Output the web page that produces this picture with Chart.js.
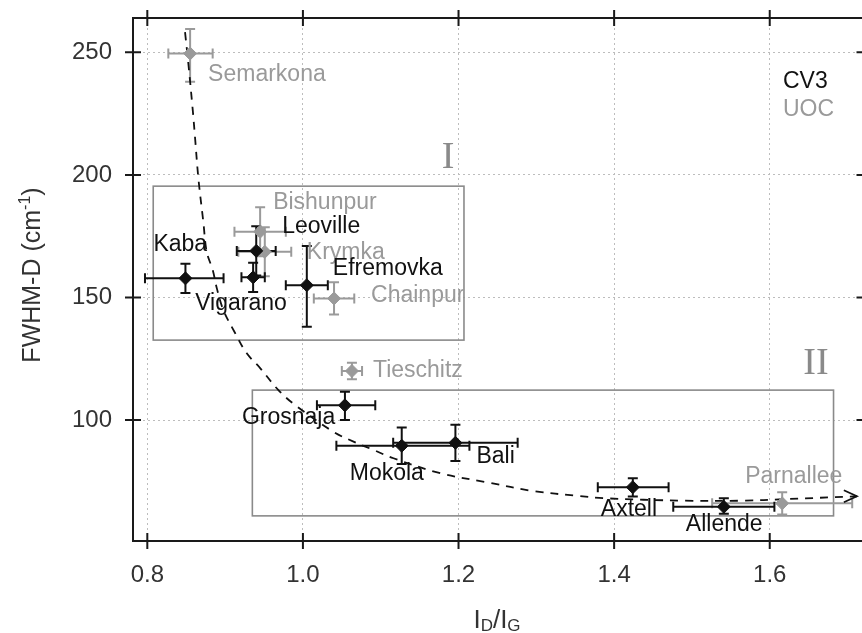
<!DOCTYPE html>
<html>
<head>
<meta charset="utf-8">
<script src="https://cdn.jsdelivr.net/npm/chart.js@4.4.0/dist/chart.umd.min.js"></script>
<style>
    html, body { margin: 0; padding: 0; background: #fff; overflow: hidden; }
    #wrap { width: 862px; height: 633px; overflow: hidden; }
    canvas { display: block; }
</style>
</head>
<body>
<div id="wrap"><canvas id="grafico" width="872" height="633"></canvas></div>
<script>
// ===================== DADOS =====================
// CV3 (pretos)
const cv3Nomes = ['Kaba', 'Leoville', 'Vigarano', 'Efremovka', 'Grosnaja', 'Mokola', 'Bali', 'Axtell', 'Allende'];
const cv3X = [0.849, 0.940, 0.936, 1.005, 1.054, 1.127, 1.196, 1.424, 1.541];
const cv3Y = [157.8, 169.0, 158.2, 155.0, 106.0, 89.5, 90.7, 72.6, 64.6];
const cv3ErrX = [[0.052, 0.049], [0.025, 0.025], [0.015, 0.015], [0.027, 0.027], [0.036, 0.039], [0.084, 0.087], [0.080, 0.080], [0.045, 0.046], [0.065, 0.065]];
const cv3ErrY = [[6, 6], [10, 10], [6, 6], [17, 16], [6, 5.5], [7.4, 7.4], [7.4, 7.4], [3.8, 3.6], [2.8, 3.5]];

// UOC (cinzas)
const uocNomes = ['Semarkona', 'Bishunpur', 'Krymka', 'Chainpur', 'Tieschitz', 'Parnallee'];
const uocX = [0.855, 0.945, 0.951, 1.040, 1.063, 1.616];
const uocY = [249.5, 176.8, 168.6, 149.6, 120.0, 66.0];
const uocErrX = [[0.028, 0.029], [0.033, 0.033], [0.034, 0.034], [0.026, 0.026], [0.013, 0.013], [0.090, 0.090]];
const uocErrY = [[11.5, 10], [10, 10], [10, 10], [6.6, 6.6], [3.4, 3.4], [4.5, 4.5]];

// curva tracejada
const curvaX = [0.8485, 0.8527, 0.8584, 0.8613, 0.8656, 0.8720, 0.8764, 0.8841, 0.8893, 0.8977, 0.9128, 0.9278, 0.9450, 0.9685, 0.9900, 1.0392, 1.0650, 1.0907, 1.1164, 1.1765, 1.2365, 1.2965, 1.3523, 1.3865, 1.4894, 1.5666, 1.6180, 1.7120];
const curvaY = [258.2, 245.6, 226.4, 215.4, 198.7, 180.8, 168.5, 161.2, 153.8, 144.9, 135.5, 127.2, 121.2, 112.2, 106.1, 95.2, 91.2, 87.8, 84.4, 78.3, 74.6, 71.0, 69.1, 68.1, 67.1, 67.1, 67.7, 68.9];

// regiões I e II: [xMin, xMax, yMin, yMax]
const regioes = [
    { nome: 'I', caixa: [0.8076, 1.207, 132.6, 195.4] },
    { nome: 'II', caixa: [0.935, 1.682, 60.9, 112.2] }
];

// ticks
const ticksX = [0.8, 1.0, 1.2, 1.4, 1.6];
const ticksY = [100, 150, 200, 250];

// ===================== ESTILO =====================
const corPreto = '#111';
const corCinza = '#9a9a9a';
const fonteRotulo = '23px "Liberation Sans", Arial, sans-serif';

// deslocamento dos rótulos em px (relativo ao ponto)
const rotuloOffset = {
    Kaba: [-32, -34], Leoville: [26, -24], Vigarano: [-58, 26], Efremovka: [26, -17],
    Grosnaja: [-103, 12], Mokola: [-52, 28], Bali: [21, 14], Axtell: [-32, 22], Allende: [-38, 18],
    Semarkona: [18, 21], Bishunpur: [13, -29], Krymka: [42, 1], Chainpur: [37, -3],
    Tieschitz: [21, 0], Parnallee: [-37, -27]
};
// posição dos numerais romanos (centro, em px)
const numeralPos = { I: [448, 158], II: [816, 364] };

function montarPontos(xs, ys) {
    return xs.map((x, i) => ({ x, y: ys[i] }));
}

// ===================== PLUGIN =====================
const pluginFigura = {
    id: 'figura',
    beforeDatasetsDraw(chart) {
        const { ctx, scales: { x, y } } = chart;
        ctx.save();
        // caixas
        ctx.strokeStyle = '#8a8a8a';
        ctx.lineWidth = 1.6;
        regioes.forEach(r => {
            const [x0, x1, y0, y1] = r.caixa;
            const px0 = x.getPixelForValue(x0), px1 = x.getPixelForValue(x1);
            const py0 = y.getPixelForValue(y1), py1 = y.getPixelForValue(y0);
            ctx.strokeRect(px0, py0, px1 - px0, py1 - py0);
            const [nx, ny] = numeralPos[r.nome];
            ctx.fillStyle = '#8a8a8a';
            ctx.font = '38px "Liberation Serif", "Times New Roman", serif';
            ctx.textAlign = 'center';
            ctx.textBaseline = 'middle';
            ctx.fillText(r.nome, nx, ny);
        });
        // barras de erro
        const desenharErros = (xs, ys, ex, ey, cor) => {
            ctx.strokeStyle = cor;
            ctx.lineWidth = 2;
            const cap = 5;
            xs.forEach((xv, i) => {
                const px = x.getPixelForValue(xv), py = y.getPixelForValue(ys[i]);
                const xl = x.getPixelForValue(xv - ex[i][0]), xr = x.getPixelForValue(xv + ex[i][1]);
                const yb = y.getPixelForValue(ys[i] - ey[i][0]), yt = y.getPixelForValue(ys[i] + ey[i][1]);
                ctx.beginPath();
                ctx.moveTo(xl, py); ctx.lineTo(xr, py);
                ctx.moveTo(xl, py - cap); ctx.lineTo(xl, py + cap);
                ctx.moveTo(xr, py - cap); ctx.lineTo(xr, py + cap);
                ctx.moveTo(px, yt); ctx.lineTo(px, yb);
                ctx.moveTo(px - cap, yt); ctx.lineTo(px + cap, yt);
                ctx.moveTo(px - cap, yb); ctx.lineTo(px + cap, yb);
                ctx.stroke();
            });
        };
        desenharErros(uocX, uocY, uocErrX, uocErrY, corCinza);
        desenharErros(cv3X, cv3Y, cv3ErrX, cv3ErrY, corPreto);
        ctx.restore();
    },
    afterDatasetsDraw(chart) {
        const { ctx, chartArea: a, scales: { x, y } } = chart;
        ctx.save();
        // seta no fim da curva
        const n = curvaX.length - 1;
        const tx = x.getPixelForValue(curvaX[n]), ty = y.getPixelForValue(curvaY[n]);
        ctx.strokeStyle = corPreto;
        ctx.lineWidth = 1.8;
        ctx.beginPath();
        ctx.moveTo(tx - 13, ty - 6); ctx.lineTo(tx, ty); ctx.lineTo(tx - 13, ty + 6);
        ctx.stroke();

        // rótulos dos pontos
        ctx.font = fonteRotulo;
        ctx.textAlign = 'left';
        ctx.textBaseline = 'middle';
        const rotular = (nomes, xs, ys, cor) => {
            ctx.fillStyle = cor;
            nomes.forEach((nome, i) => {
                const [dx, dy] = rotuloOffset[nome];
                ctx.fillText(nome, x.getPixelForValue(xs[i]) + dx, y.getPixelForValue(ys[i]) + dy);
            });
        };
        rotular(uocNomes, uocX, uocY, corCinza);
        rotular(cv3Nomes, cv3X, cv3Y, corPreto);

        // legenda
        ctx.fillStyle = corPreto;
        ctx.fillText('CV3', 783, 82);
        ctx.fillStyle = corCinza;
        ctx.fillText('UOC', 783, 110);

        // moldura e ticks
        ctx.strokeStyle = '#1a1a1a';
        ctx.lineWidth = 2;
        ctx.beginPath();
        ctx.moveTo(a.left, a.top); ctx.lineTo(a.right, a.top);
        ctx.lineTo(a.right, a.bottom); ctx.lineTo(a.left, a.bottom);
        ctx.closePath();
        ctx.stroke();
        ctx.beginPath();
        ticksX.forEach(v => {
            const p = x.getPixelForValue(v);
            ctx.moveTo(p, a.bottom - 8); ctx.lineTo(p, a.bottom + 8);
            ctx.moveTo(p, a.top - 8); ctx.lineTo(p, a.top + 8);
        });
        ticksY.forEach(v => {
            const p = y.getPixelForValue(v);
            ctx.moveTo(a.left - 8, p); ctx.lineTo(a.left + 8, p);
            ctx.moveTo(a.right - 8, p); ctx.lineTo(a.right + 8, p);
        });
        ctx.stroke();

        // título eixo Y
        ctx.fillStyle = '#333';
        ctx.save();
        ctx.translate(40, 275);
        ctx.rotate(-Math.PI / 2);
        const fTit = '25px "Liberation Sans", Arial, sans-serif';
        const fSup = '16px "Liberation Sans", Arial, sans-serif';
        ctx.font = fTit;
        const p1 = 'FWHM-D (cm', p3 = ')';
        ctx.font = fSup;
        const wSup = ctx.measureText('-1').width;
        ctx.font = fTit;
        const w1 = ctx.measureText(p1).width, w3 = ctx.measureText(p3).width;
        let cx = -(w1 + wSup + w3) / 2;
        ctx.textAlign = 'left';
        ctx.textBaseline = 'alphabetic';
        ctx.fillText(p1, cx, 0); cx += w1;
        ctx.font = fSup; ctx.fillText('-1', cx, -10); cx += wSup;
        ctx.font = fTit; ctx.fillText(p3, cx, 0);
        ctx.restore();

        // título eixo X: I_D/I_G
        const fX = '26px "Liberation Sans", Arial, sans-serif';
        const fSub = '17px "Liberation Sans", Arial, sans-serif';
        const partes = [['I', fX, 0], ['D', fSub, 5], ['/', fX, 0], ['I', fX, 0], ['G', fSub, 5]];
        let total = 0;
        partes.forEach(([t, f]) => { ctx.font = f; total += ctx.measureText(t).width; });
        let px = 497 - total / 2;
        partes.forEach(([t, f, dy]) => {
            ctx.font = f;
            ctx.fillText(t, px, 621 + dy);
            px += ctx.measureText(t).width;
        });
        ctx.restore();
    }
};

// ===================== GRÁFICO =====================
const ctx = document.getElementById('grafico').getContext('2d');
new Chart(ctx, {
    type: 'scatter',
    data: {
        datasets: [
            {
                label: 'CV3', data: montarPontos(cv3X, cv3Y),
                pointStyle: 'rectRot', pointRadius: 6.5, backgroundColor: corPreto, borderColor: corPreto, borderWidth: 1
            },
            {
                label: 'UOC', data: montarPontos(uocX, uocY),
                pointStyle: 'rectRot', pointRadius: 6.5, backgroundColor: corCinza, borderColor: corCinza, borderWidth: 1
            },
            {
                label: 'curva', type: 'line', data: montarPontos(curvaX, curvaY),
                showLine: true, pointRadius: 0, borderColor: corPreto, borderWidth: 1.8,
                borderDash: [8, 7], tension: 0.35, fill: false
            }
        ]
    },
    options: {
        responsive: false,
        animation: false,
        layout: { padding: { top: 18, right: 0, left: 0, bottom: 0 } },
        plugins: { legend: { display: false }, tooltip: { enabled: false } },
        scales: {
            x: {
                type: 'linear', min: 0.7816, max: 1.7218,
                afterFit: s => { s.height = 92; s.paddingLeft = 0; s.paddingRight = 0; },
                ticks: {
                    stepSize: 0.2, includeBounds: false, padding: 20, color: '#333',
                    font: { family: '"Liberation Sans", Arial, sans-serif', size: 24 },
                    callback: v => v.toFixed(1)
                },
                grid: { color: '#bdbdbd', lineWidth: 1, drawTicks: false },
                border: { display: false, dash: [2, 3] }
            },
            y: {
                type: 'linear', min: 50.65, max: 264,
                afterFit: s => { s.width = 133; s.paddingTop = 0; s.paddingBottom = 0; },
                ticks: {
                    stepSize: 50, includeBounds: false, padding: 21, color: '#333',
                    font: { family: '"Liberation Sans", Arial, sans-serif', size: 24 }
                },
                grid: { color: '#bdbdbd', lineWidth: 1, drawTicks: false },
                border: { display: false, dash: [2, 3] }
            }
        }
    },
    plugins: [pluginFigura]
});
</script>
</body>
</html>
